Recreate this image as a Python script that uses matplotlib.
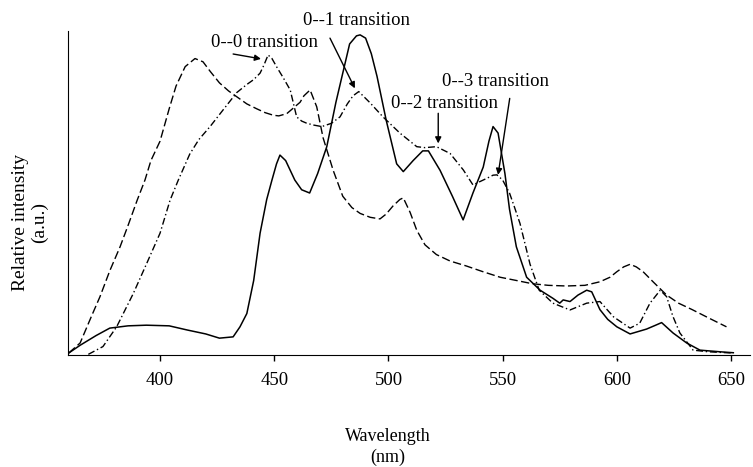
import numpy as np
import matplotlib.pyplot as plt

# ---------- Data ----------
wl_solid = [360, 365, 372, 378, 386, 394, 404, 412, 420, 426, 432, 435, 438, 441, 443.8,
            446.7, 449, 451, 452.5, 455, 459, 462, 465.5, 469, 473, 477, 480, 483, 486,
            487.6, 490, 492.5, 495, 499, 503.6, 506.5, 510.8, 515, 517.5, 522.6, 528,
            532.7, 537, 541.5, 544, 545.8, 548, 551, 553, 556, 560.5, 566.4, 572, 575,
            576.5, 579.5, 583, 586.8, 589, 592.6, 596, 600, 605.8, 613, 617, 619.6, 624.6,
            630.6, 636.4, 645, 651]
int_solid = [0.006, 0.03, 0.06, 0.083, 0.09, 0.092, 0.09, 0.077, 0.065, 0.052, 0.056, 0.087,
             0.128, 0.23, 0.376, 0.48, 0.54, 0.59, 0.617, 0.6, 0.54, 0.51, 0.5, 0.56, 0.643,
             0.78, 0.87, 0.96, 0.985, 0.988, 0.978, 0.93, 0.86, 0.725, 0.59, 0.566, 0.60,
             0.63, 0.63, 0.57, 0.49, 0.417, 0.5, 0.58, 0.66, 0.705, 0.685, 0.56, 0.45, 0.334,
             0.24, 0.2, 0.175, 0.16, 0.17, 0.165, 0.185, 0.2, 0.195, 0.14, 0.11, 0.087, 0.065,
             0.08, 0.092, 0.1, 0.068, 0.037, 0.015, 0.01, 0.007]

wl_dash = [360, 365, 370, 373.7, 378, 382.5, 386, 390, 393.4, 396, 400, 404, 407, 411, 415.3,
           418.8, 422, 426, 430, 433.6, 438, 442.3, 446, 449.6, 452, 455.5, 458, 461.3, 463,
           465.7, 468.6, 471.4, 475.8, 480, 484, 487.6, 492, 496.3, 499, 502, 505, 506.5,
           509.5, 512.4, 516, 521, 527, 534, 541, 548.9, 556, 563, 570, 578, 586, 592.6,
           597, 600, 603, 605.8, 608.5, 611.5, 616, 621.8, 627, 633, 640, 648]
int_dash = [0.006, 0.037, 0.12, 0.18, 0.26, 0.334, 0.40, 0.478, 0.54, 0.60, 0.66, 0.76, 0.83,
            0.89, 0.915, 0.905, 0.875, 0.84, 0.815, 0.797, 0.775, 0.76, 0.748, 0.74, 0.738,
            0.745, 0.76, 0.78, 0.80, 0.818, 0.766, 0.67, 0.57, 0.49, 0.455, 0.437, 0.425,
            0.42, 0.435, 0.46, 0.48, 0.485, 0.44, 0.385, 0.34, 0.31, 0.29, 0.275, 0.258,
            0.24, 0.23, 0.22, 0.215, 0.213, 0.215, 0.226, 0.24, 0.257, 0.272, 0.28, 0.272,
            0.257, 0.225, 0.185, 0.16, 0.14, 0.115, 0.087]

wl_dd = [368.6, 375, 381, 388.3, 394, 400, 404.4, 408, 413, 417, 421.9, 428, 433.6, 438, 441,
         443.8, 445.5, 447.3, 449, 451, 454, 457, 459.8, 462, 464, 467, 470.8, 475, 478.8,
         482, 484.5, 487, 492, 497.6, 505, 512.4, 516, 521, 527, 532.8, 537, 540, 543,
         545.8, 547.5, 550, 553, 555, 557.6, 562, 566, 572, 579.5, 586.8, 592.6, 598.5,
         605.8, 610, 614.5, 619, 621.8, 624.5, 627.6, 633.4, 640, 651]
int_dd = [0.002, 0.026, 0.087, 0.19, 0.28, 0.376, 0.478, 0.54, 0.62, 0.665, 0.705, 0.76, 0.81,
          0.835, 0.85, 0.87, 0.895, 0.926, 0.915, 0.89, 0.855, 0.818, 0.735, 0.722, 0.716,
          0.71, 0.705, 0.715, 0.735, 0.775, 0.80, 0.813, 0.778, 0.735, 0.685, 0.643, 0.64,
          0.643, 0.622, 0.571, 0.525, 0.535, 0.545, 0.555, 0.556, 0.54, 0.5, 0.46, 0.406,
          0.28, 0.2, 0.16, 0.139, 0.16, 0.165, 0.118, 0.083, 0.098, 0.16, 0.2, 0.18, 0.12,
          0.068, 0.015, 0.01, 0.006]

xticks = [400, 450, 500, 550, 600, 650]

# annotations: label, text centre, arrow tail, arrow head (data units)
labels = ["0--0 transition", "0--1 transition", "0--2 transition", "0--3 transition"]
text_pos = [(445.9, 0.966), (486.2, 1.031), (524.7, 0.777), (547.0, 0.844)]
arrow_tail = [(432.0, 0.929), (474.4, 0.978), (521.8, 0.746), (553.1, 0.792)]
arrow_head = [(444.2, 0.914), (485.3, 0.823), (521.8, 0.653), (548.0, 0.556)]

# ---------- Plot ----------
plt.rcParams["font.family"] = ["Liberation Serif", "DejaVu Serif"]

fig = plt.figure(figsize=(7.53, 4.67), dpi=100)
ax = fig.add_axes([68 / 753, 1 - 355 / 467, (750 - 68) / 753, (355 - 31) / 467])

ax.plot(wl_solid, int_solid, color="black", lw=1.1)
ax.plot(wl_dash, int_dash, color="black", lw=1.0, dashes=(6, 2.5))
ax.plot(wl_dd, int_dd, color="black", lw=1.0, dashes=(5, 2, 1, 2))

ax.set_xlim(359.7, 658.3)
ax.set_ylim(0, 1)
ax.set_xticks(xticks)
ax.set_yticks([])
ax.tick_params(axis="x", direction="out", length=4, width=1, pad=8, labelsize=13.5)
ax.spines["top"].set_visible(False)
ax.spines["right"].set_visible(False)

for lab, tp, tail, head in zip(labels, text_pos, arrow_tail, arrow_head):
    ax.text(tp[0], tp[1], lab, ha="center", va="center", fontsize=13.5, clip_on=False)
    ax.annotate("", xy=head, xytext=tail, annotation_clip=False,
                arrowprops=dict(arrowstyle="-|>", lw=1.0, color="black", mutation_scale=9,
                                shrinkA=0, shrinkB=0))

fig.text(388 / 753, 1 - 447 / 467, "Wavelength\n(nm)", ha="center", va="center",
         fontsize=13, linespacing=1.25)
fig.text(30 / 753, 1 - 222 / 467, "Relative intensity\n(a.u.)", ha="center", va="center",
         rotation=90, fontsize=14, linespacing=1.2)

plt.savefig("out.png", dpi=100)
